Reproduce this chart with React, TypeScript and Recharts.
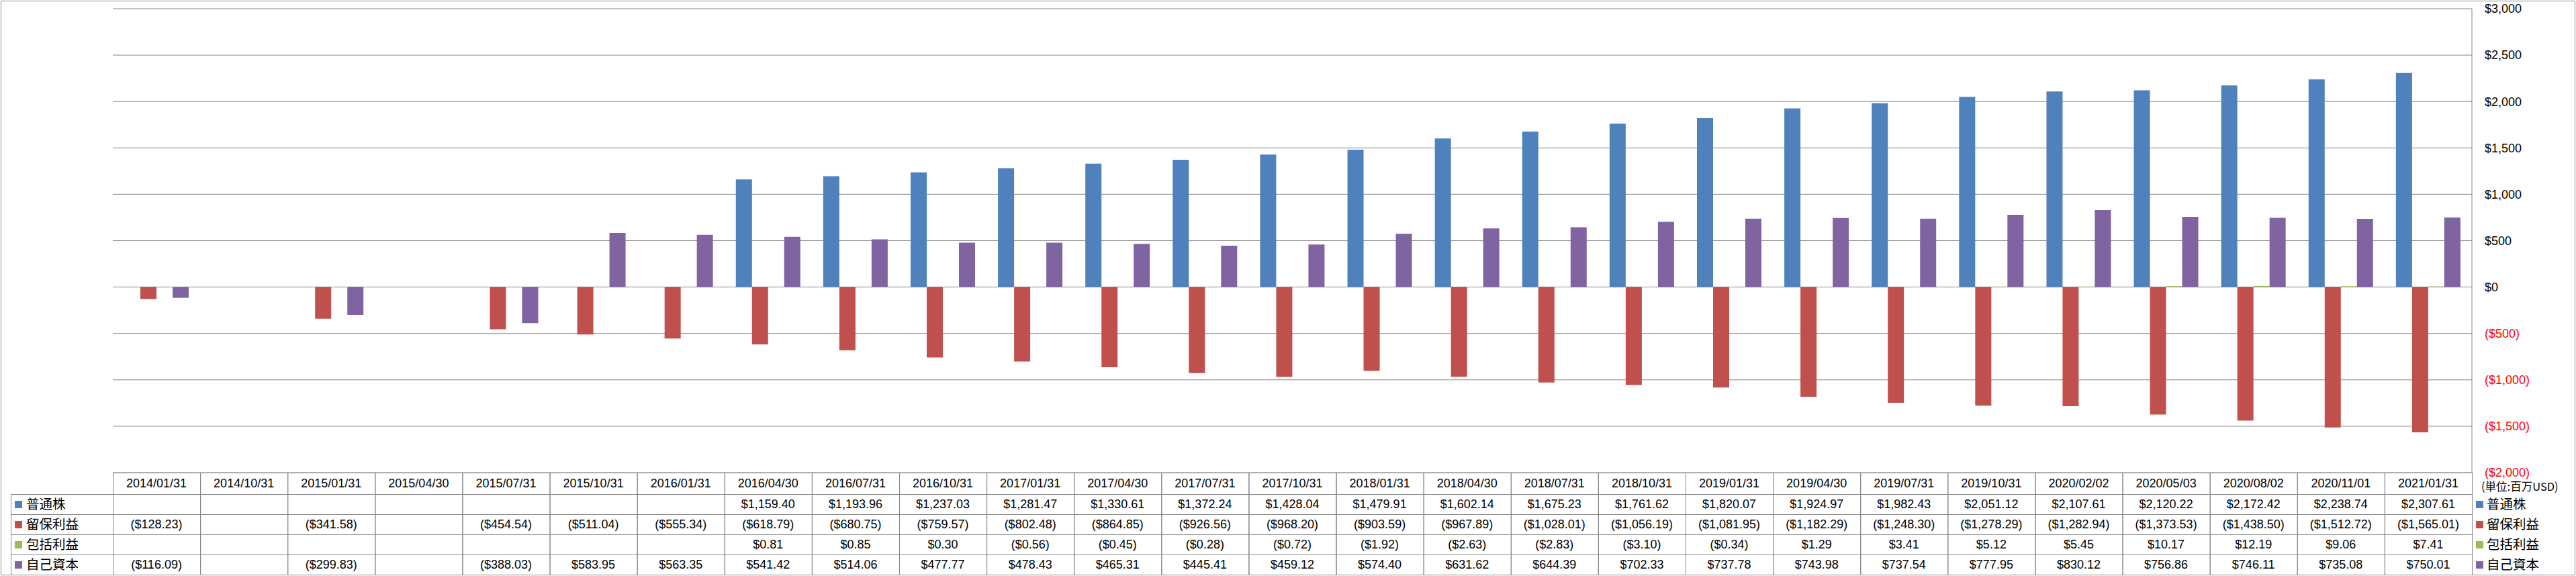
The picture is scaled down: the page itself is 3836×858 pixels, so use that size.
import React from 'react';
import { BarChart, Bar, XAxis, YAxis, CartesianGrid, Customized } from 'recharts';

const categories = [
  '2014/01/31', '2014/10/31', '2015/01/31', '2015/04/30', '2015/07/31', '2015/10/31', '2016/01/31',
  '2016/04/30', '2016/07/31', '2016/10/31', '2017/01/31', '2017/04/30', '2017/07/31', '2017/10/31',
  '2018/01/31', '2018/04/30', '2018/07/31', '2018/10/31', '2019/01/31', '2019/04/30', '2019/07/31',
  '2019/10/31', '2020/02/02', '2020/05/03', '2020/08/02', '2020/11/01', '2021/01/31',
];

const commonStock: (number | null)[] = [
  null, null, null, null, null, null, null,
  1159.40, 1193.96, 1237.03, 1281.47, 1330.61, 1372.24, 1428.04,
  1479.91, 1602.14, 1675.23, 1761.62, 1820.07, 1924.97, 1982.43,
  2051.12, 2107.61, 2120.22, 2172.42, 2238.74, 2307.61,
];

const retainedEarnings: (number | null)[] = [
  -128.23, null, -341.58, null, -454.54, -511.04, -555.34,
  -618.79, -680.75, -759.57, -802.48, -864.85, -926.56, -968.20,
  -903.59, -967.89, -1028.01, -1056.19, -1081.95, -1182.29, -1248.30,
  -1278.29, -1282.94, -1373.53, -1438.50, -1512.72, -1565.01,
];

const comprehensiveIncome: (number | null)[] = [
  null, null, null, null, null, null, null,
  0.81, 0.85, 0.30, -0.56, -0.45, -0.28, -0.72,
  -1.92, -2.63, -2.83, -3.10, -0.34, 1.29, 3.41,
  5.12, 5.45, 10.17, 12.19, 9.06, 7.41,
];

const equity: (number | null)[] = [
  -116.09, null, -299.83, null, -388.03, 583.95, 563.35,
  541.42, 514.06, 477.77, 478.43, 465.31, 445.41, 459.12,
  574.40, 631.62, 644.39, 702.33, 737.78, 743.98, 737.54,
  777.95, 830.12, 756.86, 746.11, 735.08, 750.01,
];

const seriesNames = ['普通株', '留保利益', '包括利益', '自己資本'];
const seriesValues = [commonStock, retainedEarnings, comprehensiveIncome, equity];
const seriesKeys = ['s0', 's1', 's2', 's3'];
const yTicks = [-2000, -1500, -1000, -500, 0, 500, 1000, 1500, 2000, 2500, 3000];
const unitLabel = '(単位:百万USD)';

const COLORS = ['#4F81BD', '#C0504D', '#9BBB59', '#8064A2'];
const GRID = '#868686';
const FONT = "'Liberation Sans', Arial, sans-serif";
const CJK = "'Noto Sans CJK JP', 'Noto Sans CJK SC', sans-serif";

const W = 3836;
const H = 858;
const PLOT_L = 168;
const Y_AXIS_W = 155;
const PLOT_R = W - Y_AXIS_W;
const ROWS = [704, 736, 766, 796, 826, 856];

const data = categories.map((c, i) => {
  const row: any = { date: c };
  seriesKeys.forEach((k, s) => {
    row[k] = seriesValues[s][i];
  });
  return row;
});

const fmtMoney = (v: number | null | undefined, digits: number) => {
  if (v === null || v === undefined) return '';
  const abs = Math.abs(v).toLocaleString('en-US', {
    minimumFractionDigits: digits,
    maximumFractionDigits: digits,
  });
  return v < 0 ? `($${abs})` : `$${abs}`;
};

const TableColumn = (props: any) => {
  const { x, payload } = props;
  const i = payload.index;
  const bw = (PLOT_R - PLOT_L) / categories.length;
  const left = x - bw / 2;
  const right = x + bw / 2;
  const lines = [];
  for (let r = 0; r < ROWS.length; r++) {
    lines.push(
      <line key={'h' + r} x1={left} x2={right} y1={ROWS[r] + 0.5} y2={ROWS[r] + 0.5} stroke={GRID} strokeWidth={1} />
    );
  }
  return (
    <g>
      {lines}
      <line x1={left + 0.5} x2={left + 0.5} y1={ROWS[0]} y2={ROWS[5]} stroke={GRID} strokeWidth={1} />
      <line x1={right + 0.5} x2={right + 0.5} y1={ROWS[0]} y2={ROWS[5]} stroke={GRID} strokeWidth={1} />
      <text x={x} y={(ROWS[0] + ROWS[1]) / 2} dy="0.35em" textAnchor="middle" fontFamily={FONT} fontSize={18} fill="#000">
        {categories[i]}
      </text>
      {seriesValues.map((vals, s) => (
        <text
          key={s}
          x={x}
          y={(ROWS[s + 1] + ROWS[s + 2]) / 2}
          dy="0.35em"
          textAnchor="middle"
          fontFamily={FONT}
          fontSize={18}
          fill="#000"
        >
          {fmtMoney(vals[i], 2)}
        </text>
      ))}
    </g>
  );
};

const YTick = (props: any) => {
  const { y, payload } = props;
  const v = payload.value as number;
  return (
    <text x={PLOT_R + 19} y={y} dy="0.35em" textAnchor="start" fontFamily={FONT} fontSize={18} fill={v < 0 ? '#FF0000' : '#000'}>
      {fmtMoney(v, 0)}
    </text>
  );
};

const Decorations = () => (
  <g>
    <rect x={1.5} y={1.5} width={W - 3} height={H - 3} fill="none" stroke={GRID} strokeWidth={1} />
    <line x1={16.5} x2={16.5} y1={ROWS[1]} y2={ROWS[5]} stroke={GRID} strokeWidth={1} />
    {ROWS.slice(1).map((r, k) => (
      <line key={k} x1={16} x2={PLOT_L} y1={r + 0.5} y2={r + 0.5} stroke={GRID} strokeWidth={1} />
    ))}
    <line x1={PLOT_R + 0.5} x2={PLOT_R + 0.5} y1={ROWS[0]} y2={H - 1} stroke={GRID} strokeWidth={1} />
    <text x={PLOT_R + 14} y={725} dy="0.35em" fontFamily={CJK} fontSize={16.5} fill="#000">
      {unitLabel}
    </text>
    {seriesNames.map((n, k) => {
      const cy = (ROWS[k + 1] + ROWS[k + 2]) / 2;
      return (
        <g key={n}>
          <rect x={22} y={cy - 5} width={11} height={11} fill={COLORS[k]} />
          <text x={39} y={cy} dy="0.35em" fontFamily={CJK} fontSize={19.5} fill="#000">
            {n}
          </text>
          <rect x={PLOT_R + 6} y={cy - 5} width={11} height={11} fill={COLORS[k]} />
          <text x={PLOT_R + 22} y={cy} dy="0.35em" fontFamily={CJK} fontSize={19.5} fill="#000">
            {n}
          </text>
        </g>
      );
    })}
  </g>
);

export default function App() {
  return (
    <div style={{ position: 'absolute', left: 0, top: 0, width: W, height: H, background: '#fff' }}>
      <BarChart
        width={W}
        height={H}
        data={data}
        margin={{ top: 13, right: 0, bottom: 0, left: PLOT_L }}
        barGap={0}
      >
        <CartesianGrid vertical={false} stroke={GRID} strokeWidth={1} />
        <XAxis
          dataKey="date"
          height={H - ROWS[0]}
          axisLine={false}
          tickLine={false}
          interval={0}
          tick={<TableColumn />}
        />
        <YAxis
          orientation="right"
          width={Y_AXIS_W}
          domain={[-2000, 3000]}
          ticks={yTicks}
          interval={0}
          allowDataOverflow
          axisLine={{ stroke: GRID }}
          tickLine={false}
          tick={<YTick />}
        />
        {seriesKeys.map((k, s) => (
          <Bar key={k} dataKey={k} fill={COLORS[s]} barSize={24} isAnimationActive={false} />
        ))}
        <Customized component={Decorations} />
      </BarChart>
    </div>
  );
}
